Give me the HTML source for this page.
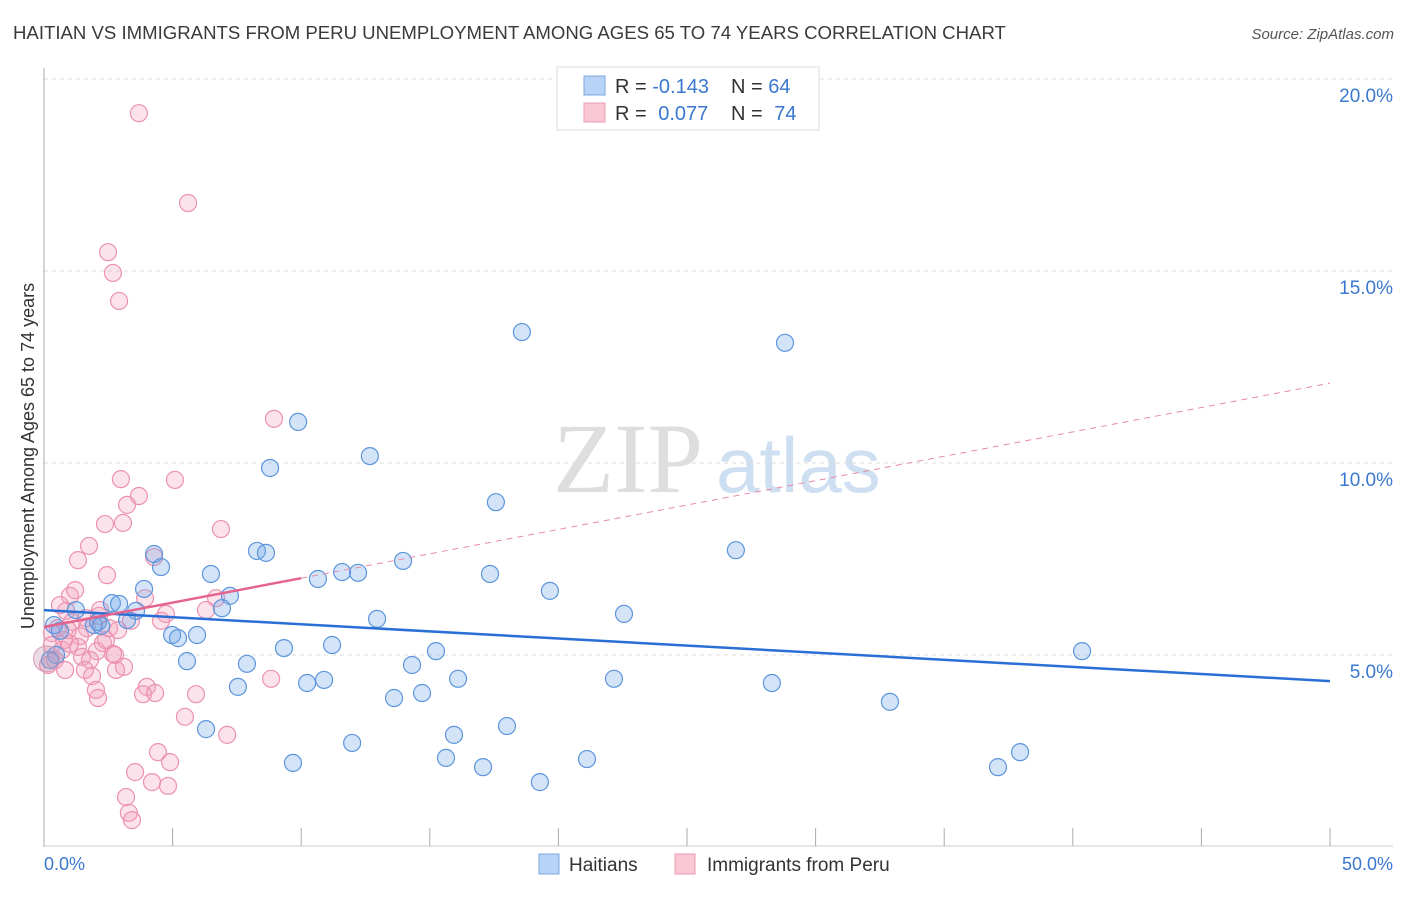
<!DOCTYPE html>
<html><head><meta charset="utf-8"><style>
body{margin:0;background:#fff;font-family:"Liberation Sans",sans-serif}
</style></head><body>
<svg id="chart" width="1406" height="892" xmlns="http://www.w3.org/2000/svg" font-family="Liberation Sans, sans-serif">
<text x="13" y="39" font-size="18.6" fill="#3a3a3a">HAITIAN VS IMMIGRANTS FROM PERU UNEMPLOYMENT AMONG AGES 65 TO 74 YEARS CORRELATION CHART</text>
<text x="1394" y="39" font-size="15" fill="#555" text-anchor="end" font-style="italic">Source: ZipAtlas.com</text>
<g>
<text x="553" y="492" font-size="100" fill="#dedede" font-family="Liberation Serif, serif">ZIP</text>
<text x="716" y="492" font-size="78" fill="#cfdff2">atlas</text>
</g>
<g id="grid"></g>
<g id="axes"></g>
<g id="pts"></g>
<g id="trends"></g>
<text transform="translate(34,456) rotate(-90)" font-size="18" fill="#333" text-anchor="middle">Unemployment Among Ages 65 to 74 years</text>
<g>
<rect x="557" y="67" width="262" height="63" fill="#fff" stroke="#ddd"/>
<rect x="584" y="76" width="21" height="19" fill="#b8d3f5" stroke="#7ba7e0"/>
<rect x="584" y="103" width="21" height="19" fill="#f9c6d4" stroke="#eb9ab3"/>
<text x="615" y="93" font-size="20" fill="#333">R = <tspan fill="#3a78d0">-0.143</tspan></text>
<text x="731" y="93" font-size="20" fill="#333">N = <tspan fill="#3a78d0">64</tspan></text>
<text x="615" y="120" font-size="20" fill="#333">R = <tspan fill="#3a78d0" dx="6">0.077</tspan></text>
<text x="731" y="120" font-size="20" fill="#333">N = <tspan fill="#3a78d0" dx="6">74</tspan></text>
</g>
<g>
<rect x="539" y="854" width="20" height="20" fill="#b8d3f5" stroke="#7ba7e0"/>
<text x="569" y="871" font-size="19" fill="#333">Haitians</text></g>
<g>
<rect x="675" y="854" width="20" height="20" fill="#f9c6d4" stroke="#eb9ab3"/>
<text x="707" y="871" font-size="19" fill="#333">Immigrants from Peru</text></g>
</svg>
<script>
const yTicks=[5,10,15,20];
const yTickLabels=["5.0%","10.0%","15.0%","20.0%"];
const xTicks=[0,5,10,15,20,25,30,35,40,45,50];
const xTickLabels=["0.0%","50.0%"];
const haitianX=[18.58,28.81,9.88,8.79,12.67,17.57,26.9,8.28,8.63,4.28,4.55,6.49,10.65,11.59,12.21,13.96,17.34,19.67,22.55,3.89,7.23,6.92,2.64,2.92,3.58,3.23,12.95,4.98,5.21,5.95,9.33,11.2,15.24,40.36,5.56,7.89,14.31,7.54,10.23,10.89,16.1,22.16,28.3,13.61,14.7,32.89,6.3,18.0,11.98,15.94,9.68,15.63,17.07,21.11,37.95,37.09,19.28,0.39,0.62,1.24,1.94,2.1,2.22,0.47,0.23];
const haitianY=[13.41,13.13,11.07,9.87,10.18,8.98,7.73,7.71,7.66,7.63,7.29,7.11,6.98,7.16,7.14,7.45,7.11,6.67,6.07,6.72,6.54,6.22,6.35,6.33,6.15,5.91,5.94,5.52,5.44,5.52,5.18,5.26,5.10,5.10,4.84,4.77,4.74,4.17,4.27,4.35,4.38,4.38,4.27,3.88,4.01,3.78,3.07,3.15,2.71,2.92,2.19,2.32,2.08,2.29,2.47,2.08,1.69,5.78,5.63,6.17,5.78,5.86,5.76,5.0,4.87];
const peruX=[3.69,5.6,2.49,2.68,2.92,8.94,2.99,5.09,3.69,3.23,2.37,3.07,6.88,1.75,1.32,4.28,2.45,1.01,3.93,6.69,4.74,4.55,6.3,0.86,2.14,1.09,3.38,1.67,0.54,0.31,1.4,2.29,2.68,1.32,2.06,0.7,1.48,0.43,0.16,3.11,2.8,1.87,8.83,4.0,5.91,2.02,2.1,3.85,4.32,5.48,7.12,4.43,4.9,3.54,4.2,4.82,3.19,3.3,3.42,0.78,1.01,2.41,1.79,0.31,0.62,2.53,1.63,2.76,1.21,2.88,0.93,2.18,1.59,0.82];
const peruY=[19.11,16.77,15.49,14.95,14.22,11.15,9.58,9.56,9.14,8.91,8.41,8.44,8.28,7.84,7.47,7.55,7.08,6.54,6.48,6.48,6.07,5.89,6.17,6.15,6.02,5.86,5.89,5.70,5.70,5.57,5.49,5.31,5.03,5.21,5.10,5.13,4.95,4.87,4.74,4.69,4.61,4.45,4.38,4.17,3.98,4.09,3.88,3.98,4.01,3.39,2.92,2.47,2.21,1.95,1.69,1.59,1.3,0.89,0.70,5.39,5.29,5.39,4.87,5.26,6.30,5.70,5.96,5.0,6.69,5.65,5.65,6.17,4.61,4.61];
const haitianTrend=[6.17,4.32];
const peruTrend=[5.73,12.08];
const peruSolidEnd=10;
const NS="http://www.w3.org/2000/svg";
const X=v=>44+v*25.72, Y=v=>847-v*38.4;
function mk(tag,attrs,parent){const e=document.createElementNS(NS,tag);for(const k in attrs)e.setAttribute(k,attrs[k]);document.getElementById(parent).appendChild(e);return e;}
yTicks.forEach((t,i)=>{
 const l=mk('line',{x1:44,x2:1393,y1:Y(t),y2:Y(t),stroke:'#ddd','stroke-dasharray':'4,4'},'grid');
 
 
 const tx=mk('text',{x:1393,y:Y(t)+23,'font-size':19,fill:'#3a78d0','text-anchor':'end'},'grid');
 tx.textContent=yTickLabels[i];
 
 
});
{const a=mk('line',{x1:44,x2:44,y1:68,y2:847,stroke:'#aaa'},'axes');
 
 
 const b=mk('line',{x1:44,x2:1393,y1:846,y2:846,stroke:'#ccc'},'axes');
 
 }
xTicks.forEach(t=>{
 const l=mk('line',{x1:X(t),x2:X(t),y1:828,y2:846,stroke:'#aaa'},'axes');
 
 
});
[[0,'start',44],[50,'end',1393]].forEach((d,i)=>{
 const tx=mk('text',{x:d[2],y:870,'font-size':18,fill:'#3a78d0','text-anchor':d[1]},'axes');
 tx.textContent=xTickLabels[i];
 
 
});
function dots(xs,ys,fill,stroke,name){
 xs.forEach((x,i)=>{
  const c=mk('circle',{cx:X(x),cy:Y(ys[i]),r:8.5,fill:fill,stroke:stroke,'stroke-width':1.2},'pts');
  
  
 });
}
dots(peruX,peruY,'rgba(243,160,188,0.3)','#ec92b0','peru-point');
dots(haitianX,haitianY,'rgba(110,165,232,0.3)','#5d95dc','haitian-point');
{const c=mk('circle',{cx:X(0.1),cy:Y(4.9),r:13,fill:'rgba(200,150,180,0.35)',stroke:'#d99ab5'},'pts');
 
 }
{const l=mk('line',{x1:X(0),y1:Y(haitianTrend[0]),x2:X(50),y2:Y(haitianTrend[1]),stroke:'#2a6fd6','stroke-width':2.5},'trends');
 
 
 const py=v=>peruTrend[0]+(peruTrend[1]-peruTrend[0])*v/50;
 const s=mk('line',{x1:X(0),y1:Y(py(0)),x2:X(peruSolidEnd),y2:Y(py(peruSolidEnd)),stroke:'#e4648f','stroke-width':2.5},'trends');
 
 
 const d=mk('line',{x1:X(peruSolidEnd),y1:Y(py(peruSolidEnd)),x2:X(50),y2:Y(py(50)),stroke:'#e88aa8','stroke-width':1,'stroke-dasharray':'6,5'},'trends');
 
 }
</script>
</body></html>
